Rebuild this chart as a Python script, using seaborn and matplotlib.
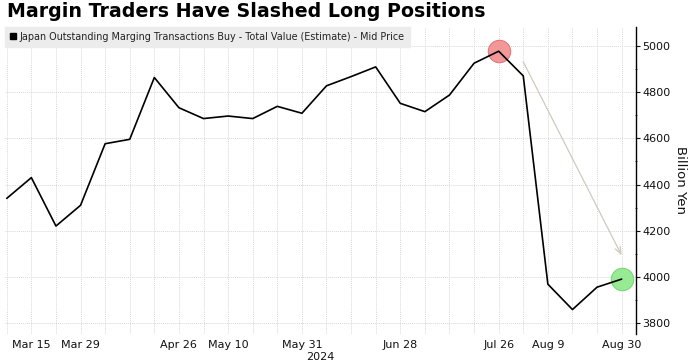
import matplotlib
matplotlib.use("Agg")
import matplotlib.pyplot as plt
from matplotlib.lines import Line2D
from matplotlib.ticker import MultipleLocator
import seaborn as sns
import pandas as pd

# ---------------- data ----------------
week_dates = pd.date_range("2024-03-08", "2024-08-30", freq="7D")
values = [4340, 4430, 4220, 4310, 4577, 4596, 4864, 4733, 4686, 4697,
          4686, 4739, 4709, 4828, 4868, 4910, 4752, 4716, 4788, 4926,
          4978, 4871, 3968, 3858, 3955, 3990]
tick_dates = ["2024-03-15", "2024-03-29", "2024-04-26", "2024-05-10", "2024-05-31",
              "2024-06-28", "2024-07-26", "2024-08-09", "2024-08-30"]
tick_labels = ["Mar 15", "Mar 29", "Apr 26", "May 10", "May 31",
               "Jun 28", "Jul 26", "Aug 9", "Aug 30"]
y_ticks = [3800, 4000, 4200, 4400, 4600, 4800, 5000]
highlight_dates = ["2024-07-26", "2024-08-30"]
highlight_colors = ["#f39393", "#93ea8f"]
highlight_edges = ["#e27373", "#74d670"]
arrow_start = ("2024-08-02", 4932)
arrow_end = ("2024-08-30", 4093)
title = "Margin Traders Have Slashed Long Positions"
series_name = "Japan Outstanding Marging Transactions Buy - Total Value (Estimate) - Mid Price"

df = pd.DataFrame({"date": week_dates, "value": values})

# ---------------- figure ----------------
sns.set_style("white")
plt.rcParams["font.family"] = ["DejaVu Sans"]
fig = plt.figure(figsize=(6.95, 3.64), dpi=100)
ax = fig.add_axes([5 / 695, 1 - 334 / 364, 630.7 / 695, 307 / 364])

# highlight circles (under the line)
hl = df[df["date"].isin(pd.to_datetime(highlight_dates))]
for (_, row), fc, ec in zip(hl.iterrows(), highlight_colors, highlight_edges):
    ax.scatter([row["date"]], [row["value"]], s=260, color=fc, edgecolor=ec,
               linewidth=0.8, zorder=2, alpha=0.95)

sns.lineplot(data=df, x="date", y="value", color="black", linewidth=1.2,
             ax=ax, zorder=3)

ax.annotate("", xy=(pd.Timestamp(arrow_end[0]), arrow_end[1]),
            xytext=(pd.Timestamp(arrow_start[0]), arrow_start[1]),
            arrowprops=dict(arrowstyle="->,head_length=0.5,head_width=0.2",
                            color="#cfcabd", lw=0.9, shrinkA=0, shrinkB=0),
            zorder=1)

# axes limits
ax.set_xlim(pd.Timestamp("2024-03-07 12:00"), pd.Timestamp("2024-09-03"))
ax.set_ylim(3752, 5083)

# x ticks and grid
ax.set_xticks(pd.to_datetime(tick_dates))
ax.set_xticklabels(tick_labels)
ax.set_xticks(week_dates, minor=True)
ax.tick_params(axis="x", which="both", length=0, labelsize=8, pad=4, colors="#111111")
ax.grid(axis="x", which="both", color="#d9d9d9", linestyle=(0, (1, 1)), linewidth=0.7)
ax.set_xlabel("2024", fontsize=8, labelpad=1.5, color="#111111")

# y axis on right
ax.yaxis.tick_right()
ax.yaxis.set_label_position("right")
ax.set_yticks(y_ticks)
ax.yaxis.set_minor_locator(MultipleLocator(100))
ax.tick_params(axis="y", which="major", length=3, width=0.8, direction="out",
               labelsize=8, pad=1.5, colors="#111111")
ax.tick_params(axis="y", which="minor", length=2, width=0.6, direction="inout")
ax.grid(axis="y", which="major", color="#d9d9d9", linestyle=(0, (1, 1)), linewidth=0.7)
ax.set_ylabel("Billion Yen", rotation=270, fontsize=9.5, labelpad=12, color="#111111")

for s in ["top", "left", "bottom"]:
    ax.spines[s].set_visible(False)
ax.spines["right"].set_color("black")
ax.spines["right"].set_linewidth(1.0)

# legend box
handle = Line2D([], [], marker="s", color="black", linestyle="none", markersize=4.8)
leg = ax.legend([handle], [series_name], loc="upper left", bbox_to_anchor=(0.0, 1.0),
                borderaxespad=0.0, frameon=True, fancybox=False, facecolor="#ececec",
                edgecolor="#ececec", framealpha=1, fontsize=6.9, handlelength=0.7,
                handletextpad=0.35, borderpad=0.5)
for t in leg.get_texts():
    t.set_color("#222222")

fig.text(7 / 695, 1 - 2 / 364, title, fontsize=13.7, fontweight="bold",
         ha="left", va="top", color="black")

fig.savefig("out.png", dpi=100, facecolor="white")
